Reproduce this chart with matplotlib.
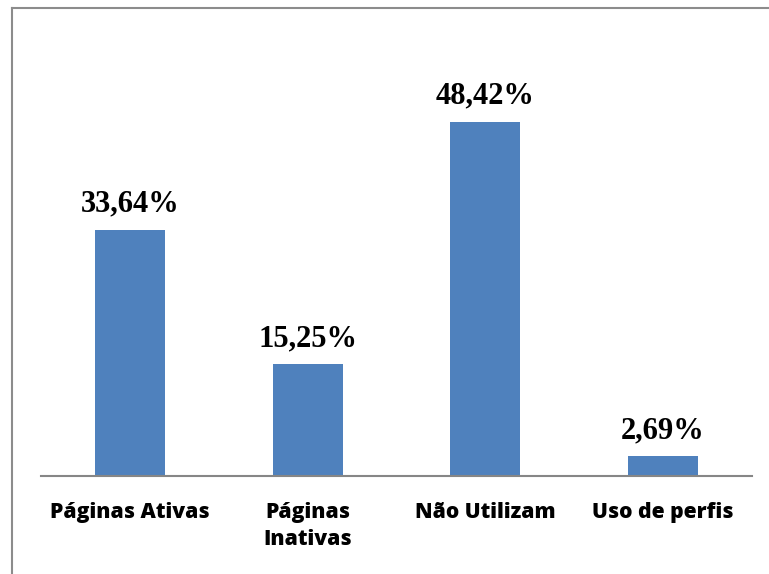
import matplotlib
matplotlib.use("Agg")
import matplotlib.pyplot as plt
from matplotlib.lines import Line2D

categories = ["Páginas Ativas", "Páginas\nInativas", "Não Utilizam", "Uso de perfis"]
values = [33.64, 15.25, 48.42, 2.69]
value_labels = ["33,64%", "15,25%", "48,42%", "2,69%"]

W, H = 769, 574
fig = plt.figure(figsize=(W / 100, H / 100), dpi=100)
ax = fig.add_axes([41 / W, (H - 476) / H, (752 - 41) / W, (476 - 37) / H])

x = list(range(len(categories)))
bars = ax.bar(x, values, width=0.395, color="#4F81BD")
ax.set_xlim(-0.5, len(categories) - 0.5)
ax.set_ylim(0, 60)

for rect, lab in zip(bars, value_labels):
    ax.annotate(lab, (rect.get_x() + rect.get_width() / 2, rect.get_height()),
                xytext=(0, 13), textcoords="offset points", ha="center", va="baseline",
                fontsize=22, fontweight="bold", family="Liberation Serif", color="black")

for s in ["top", "right", "left"]:
    ax.spines[s].set_visible(False)
ax.spines["bottom"].set_color("#868686")
ax.spines["bottom"].set_linewidth(1.5)
ax.set_yticks([])
ax.set_xticks(x)
ax.set_xticklabels(categories, fontsize=15.2, fontweight="heavy", family="Open Sans", linespacing=1.35)
ax.tick_params(axis="x", length=0, pad=19)

fig.add_artist(Line2D([12 / W, 12 / W], [0, (H - 8) / H], color="#8c8c8c", lw=1.5, transform=fig.transFigure))
fig.add_artist(Line2D([12 / W, 1], [(H - 8) / H, (H - 8) / H], color="#8c8c8c", lw=1.5, transform=fig.transFigure))

fig.savefig("out.png", dpi=100)
